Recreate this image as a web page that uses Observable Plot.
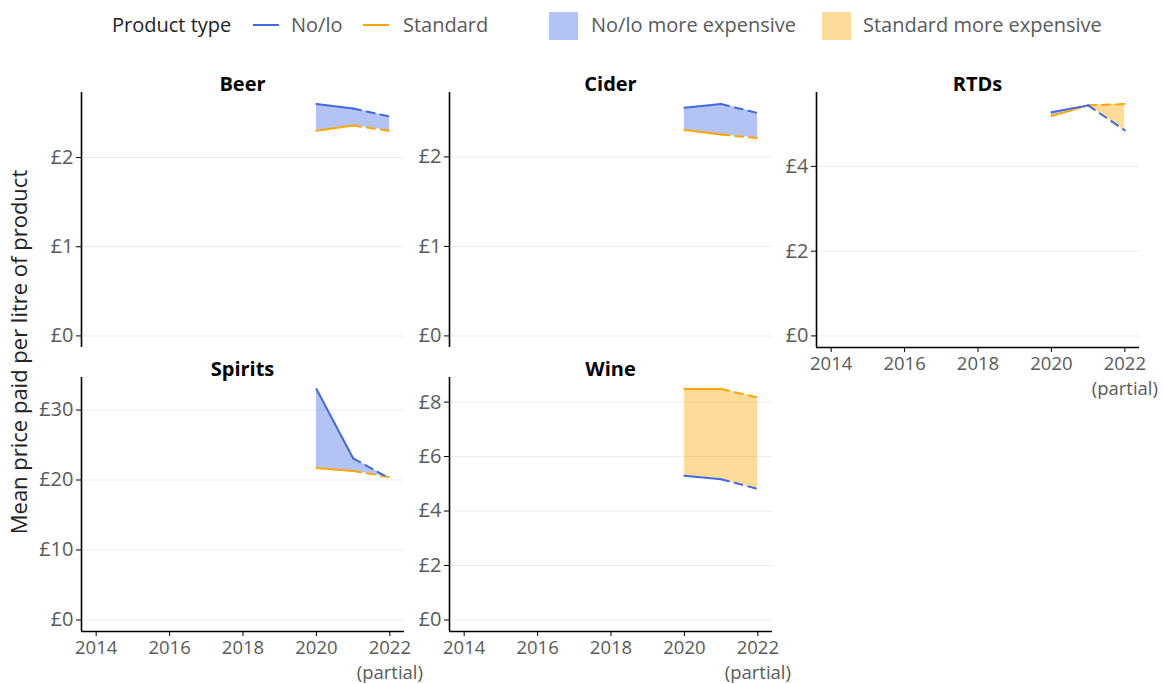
<!DOCTYPE html>
<html><head><meta charset="utf-8">
<script src="https://cdn.jsdelivr.net/npm/d3@7"></script>
<script src="https://cdn.jsdelivr.net/npm/@observablehq/plot@0.6"></script>
<style>
body{margin:0;background:#fff;font-family:"Open Sans",Lato,sans-serif;}
#chart{position:relative;width:1165px;height:684px;overflow:hidden;background:#fff;}
.abs{position:absolute;white-space:nowrap;line-height:1;}
.leg{font-size:20px;color:#5a5a5a;transform:translateY(-50%);}
.ptitle{font-size:20px;font-weight:bold;color:#000;transform:translate(-50%,-50%);}
</style></head><body><div id="chart"></div>
<script>
// ---- data ----
const years = [2020, 2021, 2022];
const partialYear = 2022;
const xExtent = [2014, 2022];
const xTicks = [2014, 2016, 2018, 2020, 2022];
const xTickLabels = ["2014", "2016", "2018", "2020", "2022\n(partial)"];
const categories = ["Beer", "Cider", "RTDs", "Spirits", "Wine"];
const beerNolo = [2.60, 2.55, 2.46];
const beerStandard = [2.30, 2.36, 2.30];
const ciderNolo = [2.55, 2.59, 2.49];
const ciderStandard = [2.30, 2.25, 2.21];
const rtdsNolo = [5.28, 5.44, 4.85];
const rtdsStandard = [5.19, 5.44, 5.47];
const spiritsNolo = [33.0, 23.1, 20.2];
const spiritsStandard = [21.7, 21.3, 20.4];
const wineNolo = [5.30, 5.17, 4.81];
const wineStandard = [8.48, 8.48, 8.17];
const beerTicks = [0, 1, 2];
const ciderTicks = [0, 1, 2];
const rtdsTicks = [0, 2, 4];
const spiritsTicks = [0, 10, 20, 30];
const wineTicks = [0, 2, 4, 6, 8];
const legendProduct = ["No/lo", "Standard"];
const legendFill = ["No/lo more expensive", "Standard more expensive"];
const yTitle = "Mean price paid per litre of product";

// ---- style ----
const BLUE = "#4169E1", ORANGE = "#FFA500";
const FONT = "'Open Sans', Lato, sans-serif";

// ---- layout (frames) ----
const cols = [[81, 404], [449, 772], [816, 1139]];
const rowsY = [[92, 347], [377, 631]];
const panels = [
  {name: categories[0], nolo: beerNolo, std: beerStandard, ticks: beerTicks, col: 0, row: 0, showX: false},
  {name: categories[1], nolo: ciderNolo, std: ciderStandard, ticks: ciderTicks, col: 1, row: 0, showX: false},
  {name: categories[2], nolo: rtdsNolo, std: rtdsStandard, ticks: rtdsTicks, col: 2, row: 0, showX: true},
  {name: categories[3], nolo: spiritsNolo, std: spiritsStandard, ticks: spiritsTicks, col: 0, row: 1, showX: true},
  {name: categories[4], nolo: wineNolo, std: wineStandard, ticks: wineTicks, col: 1, row: 1, showX: true}
];

const chart = document.getElementById("chart");
function addDiv(cls, text, css) {
  const d = document.createElement("div");
  d.className = "abs " + cls;
  d.textContent = text;
  Object.assign(d.style, css);
  chart.appendChild(d);
  return d;
}

function applyClip(svg, srcG, tgtG, id) {
  const ns = "http://www.w3.org/2000/svg";
  let defs = svg.querySelector("defs");
  if (!defs) { defs = document.createElementNS(ns, "defs"); svg.insertBefore(defs, svg.firstChild); }
  const cp = document.createElementNS(ns, "clipPath");
  cp.setAttribute("id", id);
  srcG.querySelectorAll("path").forEach(p => { const q = p.cloneNode(); cp.appendChild(q); });
  defs.appendChild(cp);
  tgtG.setAttribute("clip-path", `url(#${id})`);
  srcG.remove();
}

panels.forEach((p, idx) => {
  const [x0, x1] = cols[p.col];
  const [y0, y1] = rowsY[p.row];
  const mL = 70, mR = 50, mT = 10, mB = 60;
  const width = mL + (x1 - x0) + mR;
  const height = mT + (y1 - y0) + mB;
  const data = years.map((year, i) => ({year, nolo: p.nolo[i], std: p.std[i]}));
  const M = d3.max([...p.nolo, ...p.std]);
  const yDomain = [0 - 0.05 * M, M * 1.05];
  const span = xExtent[1] - xExtent[0];
  const xDomain = [xExtent[0] - 0.05 * span, xExtent[1] + 0.05 * span];
  const solid = data.filter(d => d.year <= partialYear - 1);
  const dashed = data.filter(d => d.year >= partialYear - 1);
  const marks = [
    Plot.gridY(p.ticks, {stroke: "#ebebeb", strokeOpacity: 1, strokeWidth: 1}),
    Plot.areaY(data, {x: "year", y1: "std", y2: () => yDomain[1], fill: BLUE, fillOpacity: 0.4, className: `fa${idx}`}),
    Plot.areaY(data, {x: "year", y1: () => yDomain[0], y2: "nolo", fill: "#000", className: `ca${idx}`}),
    Plot.areaY(data, {x: "year", y1: "nolo", y2: () => yDomain[1], fill: ORANGE, fillOpacity: 0.4, className: `fb${idx}`}),
    Plot.areaY(data, {x: "year", y1: () => yDomain[0], y2: "std", fill: "#000", className: `cb${idx}`}),
    Plot.line(solid, {x: "year", y: "std", stroke: ORANGE, strokeWidth: 2}),
    Plot.line(dashed, {x: "year", y: "std", stroke: ORANGE, strokeWidth: 2, strokeDasharray: "8,6"}),
    Plot.line(solid, {x: "year", y: "nolo", stroke: BLUE, strokeWidth: 2}),
    Plot.line(dashed, {x: "year", y: "nolo", stroke: BLUE, strokeWidth: 2, strokeDasharray: "8,6"}),
    Plot.axisY(p.ticks, {tickFormat: d => "£" + d, tickSize: 5, tickPadding: 3, stroke: "#000", fill: "#5a5a5a", fontSize: 20, label: null}),
    Plot.ruleX([xDomain[0]], {stroke: "#000", strokeWidth: 1.6})
  ];
  if (p.showX) {
    marks.push(Plot.axisX(xTicks, {tickFormat: d => xTickLabels[xTicks.indexOf(d)], tickSize: 5, tickPadding: 0, stroke: "#000", fill: "#5a5a5a", fontSize: 18.5, label: null, lineHeight: 1.34}));
    marks.push(Plot.ruleY([yDomain[0]], {stroke: "#000", strokeWidth: 1.6}));
  }
  const svg = Plot.plot({
    width, height, marginLeft: mL, marginRight: mR, marginTop: mT, marginBottom: mB,
    x: {domain: xDomain, ...(p.showX ? {} : {axis: null})},
    y: {domain: yDomain},
    style: {fontFamily: FONT, fontSize: "20px", background: "transparent", overflow: "visible", maxWidth: "none"},
    marks
  });
  let fa = svg.querySelector(`g.fa${idx}`), ca = svg.querySelector(`g.ca${idx}`);
  let fb = svg.querySelector(`g.fb${idx}`), cb = svg.querySelector(`g.cb${idx}`);
  if (!fa || !ca || !fb || !cb) {
    const areas = svg.querySelectorAll('g[aria-label="area"]');
    [fa, ca, fb, cb] = areas;
  }
  applyClip(svg, ca, fa, `clipA${idx}`);
  applyClip(svg, cb, fb, `clipB${idx}`);
  svg.style.position = "absolute";
  svg.style.left = (x0 - mL) + "px";
  svg.style.top = (y0 - mT) + "px";
  chart.appendChild(svg);
  addDiv("ptitle", p.name, {left: ((x0 + x1) / 2) + "px", top: (y0 - 8) + "px"});
});

// ---- y title ----
addDiv("", yTitle, {left: "18px", top: "352px", fontSize: "22px", color: "#222",
  transform: "translate(-50%,-50%) rotate(-90deg)"});

// ---- legend ----
const LY = 25;
addDiv("leg", "Product type", {left: "112px", top: LY + "px", color: "#222"});
const keyLine = (left, color) => addDiv("", "", {left: left + "px", top: (LY - 1) + "px", width: "26px", height: "2px", background: color});
keyLine(253, BLUE);
addDiv("leg", legendProduct[0], {left: "291px", top: LY + "px"});
keyLine(363, ORANGE);
addDiv("leg", legendProduct[1], {left: "403px", top: LY + "px"});
const keyBox = (left, color) => addDiv("", "", {left: left + "px", top: "12px", width: "29px", height: "28px", background: color, opacity: 0.4});
keyBox(549, BLUE);
addDiv("leg", legendFill[0], {left: "591px", top: LY + "px"});
keyBox(822, ORANGE);
addDiv("leg", legendFill[1], {left: "863px", top: LY + "px"});
</script></body></html>
